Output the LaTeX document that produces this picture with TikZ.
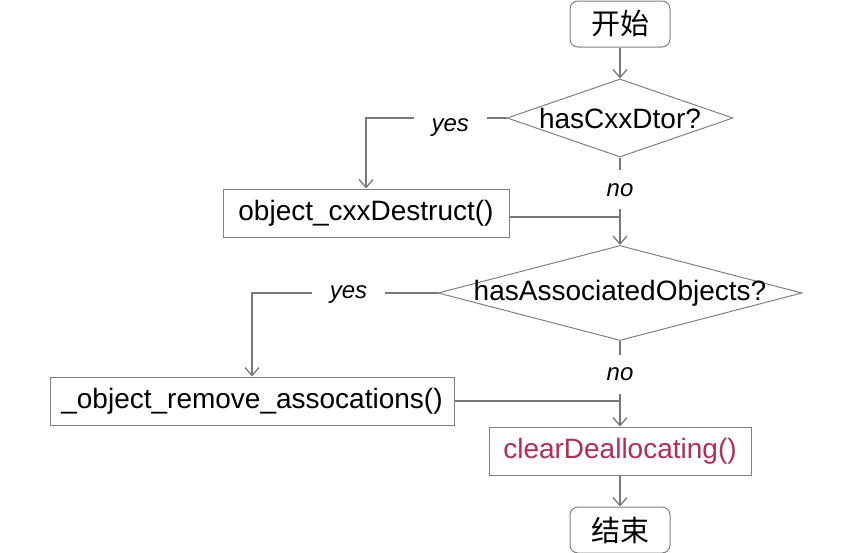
\documentclass[tikz,border=0pt]{standalone}
\usepackage{fontspec}
\setmainfont{Liberation Sans}
\newfontfamily\cjk{Noto Sans CJK SC}
\usetikzlibrary{shapes.geometric,arrows.meta}
\definecolor{linegray}{RGB}{120,120,120}
\definecolor{boxgray}{RGB}{128,128,128}
\definecolor{redtext}{RGB}{180,45,85}
\begin{document}
\begin{tikzpicture}[x=1pt,y=-1pt,
  line/.style={draw=linegray, line width=1.3pt},
  arr/.style={line, -{Straight Barb[length=8pt,width=14pt]}},
  proc/.style={draw=boxgray, line width=1pt, rectangle, inner sep=0pt, font=\fontsize{28}{32}\selectfont},
  term/.style={proc, rounded corners=8pt, minimum width=100pt, minimum height=46pt},
  dec/.style={draw=boxgray, line width=1pt, diamond, inner sep=0pt, font=\fontsize{28}{32}\selectfont},
  hlab/.style={fill=white, font=\fontsize{24}{26}\selectfont\itshape, inner xsep=18pt, inner ysep=2pt},
  vlab/.style={fill=white, font=\fontsize{24}{26}\selectfont\itshape, inner xsep=2pt, inner ysep=13pt}
]
\useasboundingbox[fill=white] (0,0) rectangle (868,552);

\node[term] (start) at (620,24) {\cjk\fontsize{29}{32}\selectfont 开始};
\node[dec, minimum width=226pt, minimum height=78pt] (d1) at (620,118) {\makebox[0pt]{hasCxxDtor?}};
\node[proc, minimum width=286pt, minimum height=48pt] (b1) at (366,213) {object\_cxxDestruct()};
\node[dec, minimum width=364pt, minimum height=95pt] (d2) at (620,293) {\makebox[0pt]{hasAssociatedObjects?}};
\node[proc, minimum width=404pt, minimum height=48pt] (b2) at (252,401) {\_object\_remove\_assocations()};
\node[proc, minimum width=262pt, minimum height=48pt, text=redtext] (b3) at (620,451) {clearDeallocating()};
\node[term] (end) at (620,530) {\cjk\fontsize{29}{32}\selectfont 结束};

\draw[arr] (start) -- (d1);
\draw[arr] (d1.west) -| (b1.north) node[hlab, pos=0.2, yshift=-10pt] {yes};
\draw[arr] (d1.south) -- (d2.north) node[vlab, pos=0.37] {no};
\draw[line] ([yshift=-4pt]b1.east) -- ([yshift=-4pt]b1.east -| d1.south);
\draw[arr] (d2.west) -| (b2.north) node[hlab, pos=0.24, yshift=-2pt] {yes};
\draw[arr] (d2.south) -- (b3.north) node[vlab, pos=0.39] {no};
\draw[line] (b2.east) -- (b2.east -| d2.south);
\draw[arr] (b3) -- (end);
\end{tikzpicture}
\end{document}
